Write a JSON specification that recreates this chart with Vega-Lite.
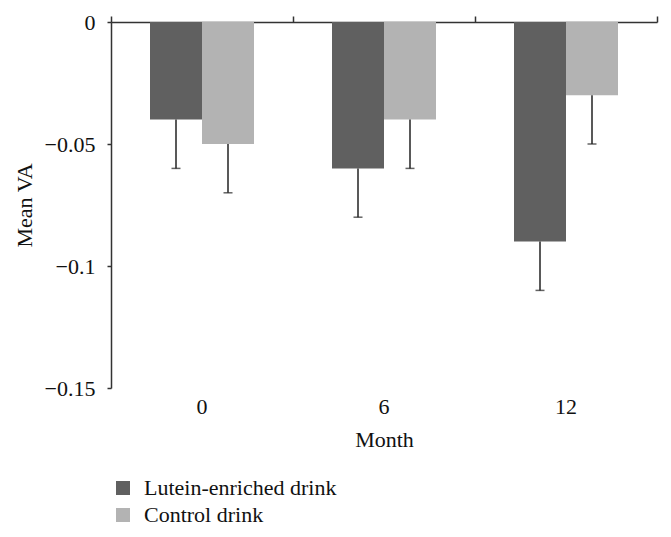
{
  "$schema": "https://vega.github.io/schema/vega-lite/v6.json",
  "width": 546,
  "height": 366,
  "autosize": {"type": "none"},
  "padding": {"left": 111, "top": 22, "right": 14, "bottom": 149},
  "background": "white",
  "config": {
    "view": {"stroke": null},
    "font": "Liberation Serif",
    "axis": {
      "domainColor": "#333333",
      "tickColor": "#333333",
      "domainWidth": 1.5,
      "tickWidth": 1.5,
      "labelFont": "Liberation Serif",
      "titleFont": "Liberation Serif",
      "labelColor": "#111111",
      "titleColor": "#111111",
      "labelFontSize": 22,
      "titleFontSize": 22,
      "titleFontWeight": "normal",
      "grid": false
    },
    "legend": {
      "labelFont": "Liberation Serif",
      "labelFontSize": 22,
      "labelColor": "#111111",
      "labelLimit": 0
    }
  },
  "data": {
    "values": [
      {"month": "0", "drink": "Lutein-enriched drink", "value": -0.04, "low": -0.06},
      {"month": "0", "drink": "Control drink", "value": -0.05, "low": -0.07},
      {"month": "6", "drink": "Lutein-enriched drink", "value": -0.06, "low": -0.08},
      {"month": "6", "drink": "Control drink", "value": -0.04, "low": -0.06},
      {"month": "12", "drink": "Lutein-enriched drink", "value": -0.09, "low": -0.11},
      {"month": "12", "drink": "Control drink", "value": -0.03, "low": -0.05}
    ]
  },
  "resolve": {"axis": {"x": "independent"}},
  "layer": [
    {
      "mark": {"type": "bar"},
      "encoding": {
        "x": {
          "field": "month", "type": "nominal", "sort": ["0", "6", "12"],
          "scale": {"paddingInner": 0, "paddingOuter": 0},
          "axis": {
            "orient": "top", "labels": false, "ticks": true, "tickBand": "extent",
            "tickSize": 6, "domain": true, "title": null
          }
        },
        "xOffset": {
          "field": "drink", "type": "nominal",
          "scale": {"domain": ["Lutein-enriched drink", "Control drink"], "paddingInner": 0, "paddingOuter": 0.75}
        },
        "y": {
          "field": "value", "type": "quantitative",
          "scale": {"domain": [-0.15, 0], "nice": false},
          "axis": {
            "values": [0, -0.05, -0.1, -0.15],
            "labelExpr": "datum.value == 0 ? '0' : '\u2212' + format(-datum.value, '.2~f')",
            "tickSize": 4,
            "labelPadding": 12,
            "title": "Mean VA",
            "titleAngle": -90,
            "titleBaseline": "alphabetic",
            "titleAlign": "center",
            "titleX": -80,
            "titleY": 183
          }
        },
        "color": {
          "field": "drink", "type": "nominal",
          "scale": {"domain": ["Lutein-enriched drink", "Control drink"], "range": ["#606060", "#b3b3b3"]},
          "legend": {
            "orient": "none", "legendX": 1, "legendY": 455, "title": null,
            "padding": 0, "symbolType": "square", "symbolSize": 196, "symbolStrokeWidth": 0,
            "rowPadding": 5, "labelOffset": 10, "direction": "vertical"
          }
        }
      }
    },
    {
      "mark": {"type": "rule", "color": "#222222", "strokeWidth": 1.5},
      "encoding": {
        "x": {
          "field": "month", "type": "nominal", "sort": ["0", "6", "12"],
          "axis": {
            "orient": "bottom", "domain": false, "ticks": false, "tickSize": 0,
            "labelPadding": 25, "labelBaseline": "alphabetic", "labelAngle": 0,
            "title": "Month", "titleBaseline": "alphabetic", "titleX": 273, "titleY": 58,
            "titleAlign": "center"
          }
        },
        "xOffset": {"field": "drink", "type": "nominal"},
        "y": {
          "field": "value", "type": "quantitative",
          "axis": {
            "values": [0, -0.05, -0.1, -0.15],
            "labelExpr": "datum.value == 0 ? '0' : '\u2212' + format(-datum.value, '.2~f')",
            "tickSize": 4,
            "labelPadding": 12,
            "title": "Mean VA",
            "titleAngle": -90,
            "titleBaseline": "alphabetic",
            "titleAlign": "center",
            "titleX": -80,
            "titleY": 183
          }
        },
        "y2": {"field": "low"}
      }
    },
    {
      "mark": {"type": "tick", "color": "#222222", "thickness": 1.5, "size": 9},
      "encoding": {
        "x": {"field": "month", "type": "nominal", "sort": ["0", "6", "12"], "axis": null},
        "xOffset": {"field": "drink", "type": "nominal"},
        "y": {
          "field": "low", "type": "quantitative",
          "axis": {
            "values": [0, -0.05, -0.1, -0.15],
            "labelExpr": "datum.value == 0 ? '0' : '\u2212' + format(-datum.value, '.2~f')",
            "tickSize": 4,
            "labelPadding": 12,
            "title": "Mean VA",
            "titleAngle": -90,
            "titleBaseline": "alphabetic",
            "titleAlign": "center",
            "titleX": -80,
            "titleY": 183
          }
        }
      }
    }
  ]
}
